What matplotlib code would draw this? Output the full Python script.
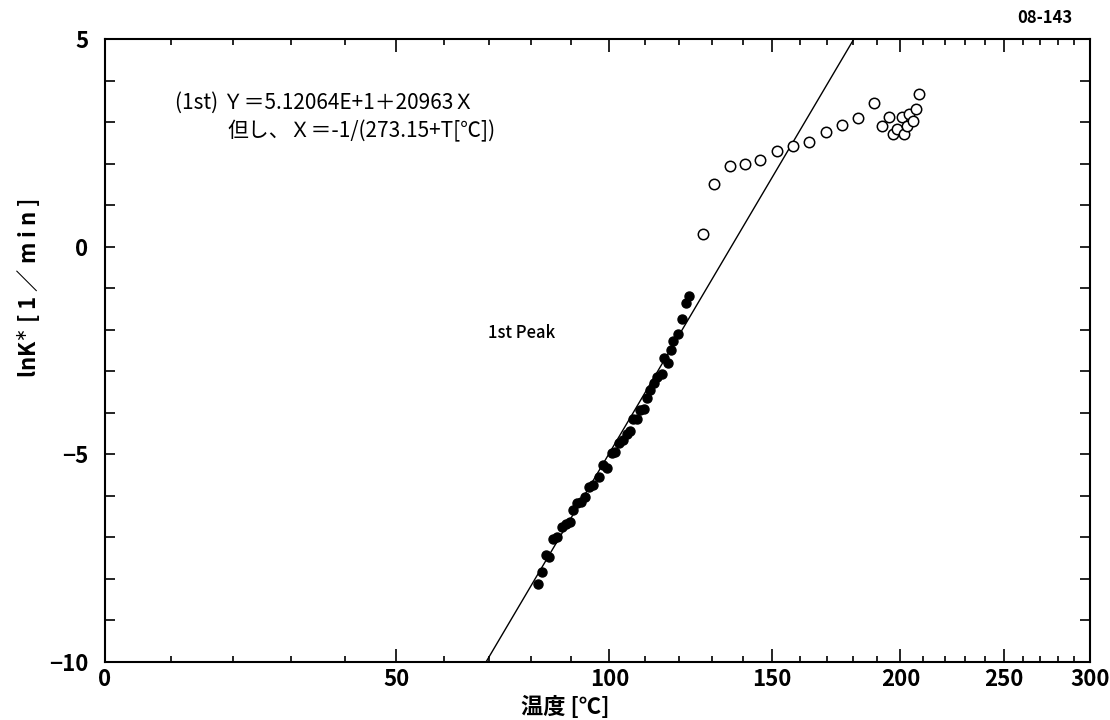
import numpy as np
import matplotlib
matplotlib.use('Agg')
import matplotlib.pyplot as plt
from matplotlib.ticker import MultipleLocator, FixedLocator

plt.rcParams['font.family'] = ['Noto Sans CJK JP', 'DejaVu Sans']

# fit: Y = A + B*X, X = -1/(273.15+T)
A = 51.2064
B = 20963

# 1st peak (filled)
t_fill = [81.6, 82.7, 83.6, 84.3, 85.4, 86.3, 87.6, 88.5, 89.6, 90.5,
          91.5, 92.5, 93.5, 94.5, 95.6, 97.3, 98.4, 99.5, 100.7, 101.6,
          102.7, 103.7, 104.8, 105.7, 106.6, 107.7, 108.5, 109.6, 110.4, 111.3,
          112.5, 113.5, 114.7, 115.4, 116.7, 117.4, 118.2, 119.7, 120.7, 122.0,
          122.8]
k_fill = [-8.12, -7.83, -7.42, -7.48, -7.05, -7.00, -6.76, -6.68, -6.62, -6.34,
          -6.18, -6.14, -6.03, -5.79, -5.74, -5.54, -5.26, -5.34, -4.96, -4.94,
          -4.73, -4.65, -4.51, -4.43, -4.16, -4.16, -3.93, -3.92, -3.65, -3.45,
          -3.28, -3.15, -3.07, -2.69, -2.81, -2.49, -2.27, -2.10, -1.75, -1.35,
          -1.19]

# rest (open)
t_open = [127.1, 130.7, 135.8, 140.9, 145.9, 151.7, 157.5, 163.4, 169.6, 175.8,
          182.2, 188.7, 192.0, 194.9, 196.6, 198.6, 200.5, 201.5, 202.7, 203.9,
          205.7, 206.7, 208.1]
k_open = [0.31, 1.51, 1.95, 1.98, 2.09, 2.31, 2.42, 2.52, 2.77, 2.94,
          3.11, 3.47, 2.91, 3.13, 2.71, 2.83, 3.13, 2.71, 2.91, 3.19,
          3.03, 3.31, 3.68]

xticks = [0, 50, 100, 150, 200, 250, 300]
xminor = list(range(10, 300, 10))


def fwd(t):
    with np.errstate(divide='ignore', invalid='ignore'):
        return -1.0 / (273.15 + np.asarray(t, dtype=float))


def inv(x):
    with np.errstate(divide='ignore', invalid='ignore'):
        return -1.0 / np.asarray(x, dtype=float) - 273.15


fig = plt.figure(figsize=(11.1, 7.2), dpi=100)
ax = fig.add_axes([0.0946, 0.0806, 0.8874, 0.8652])
ax.set_xscale('function', functions=(fwd, inv))
ax.set_xlim(0, 300)
ax.set_ylim(-10, 5)

tl = np.linspace(60, 200, 200)
ax.plot(tl, A + B * fwd(tl), color='black', lw=1.0)
ax.plot(t_fill, k_fill, 'o', color='black', ms=6.5)
ax.plot(t_open, k_open, 'o', mfc='white', mec='black', mew=1.1, ms=7.5)

ax.xaxis.set_major_locator(FixedLocator(xticks))
ax.xaxis.set_minor_locator(FixedLocator(xminor))
ax.set_xticklabels([str(v) for v in xticks])
ax.yaxis.set_major_locator(MultipleLocator(5))
ax.yaxis.set_minor_locator(MultipleLocator(1))

ax.tick_params(which='both', direction='in', top=True, right=True,
               labelsize=16, width=1.2)
ax.tick_params(axis='x', which='major', length=9.5, pad=4)
ax.tick_params(axis='x', which='minor', length=4.5)
ax.tick_params(axis='y', which='major', length=7.5, pad=12)
ax.tick_params(axis='y', which='minor', length=7)
for lab in ax.get_xticklabels() + ax.get_yticklabels():
    lab.set_fontweight('bold')
for s in ax.spines.values():
    s.set_linewidth(1.5)

ax.set_xlabel('温度 [℃]', fontsize=16, fontweight='bold')
ax.xaxis.set_label_coords(0.467, -0.055)
ax.set_ylabel('lnK$^{\\ast}$ [ 1 ／ m i n ]', fontsize=16, fontweight='bold')
ax.yaxis.set_label_coords(-0.064, 0.60)

fig.text(0.158, 0.857, '(1st) Ｙ＝5.12064E+1＋20963Ｘ', fontsize=15,
         ha='left', va='center')
fig.text(0.205, 0.818, '但し、Ｘ＝-1/(273.15+T[℃])', fontsize=15,
         ha='left', va='center')
fig.text(0.470, 0.5375, '1st Peak', fontsize=12, fontweight='medium',
         ha='center', va='center')
fig.text(0.966, 0.975, '08-143', fontsize=12, fontweight='bold', ha='right', va='center')

fig.savefig('out.png', dpi=100)
